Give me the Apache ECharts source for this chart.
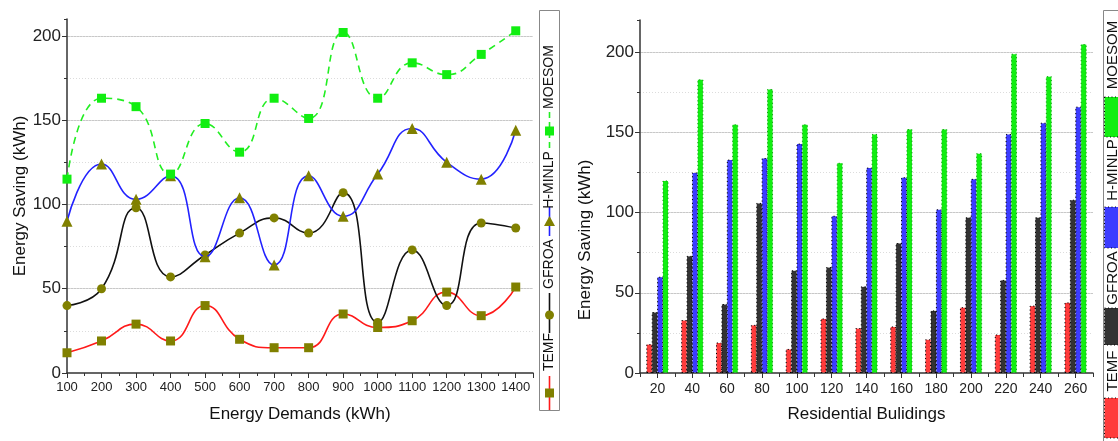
<!DOCTYPE html>
<html>
<head>
<meta charset="utf-8">
<script src="https://cdn.jsdelivr.net/npm/echarts@6.0.0/dist/echarts.min.js"></script>
<style>
  html, body { margin: 0; padding: 0; background: #fff; }
  #chart { width: 1118px; height: 441px; }
</style>
</head>
<body>
<div id="chart"></div>
<script>
// left panel: energy demand (kWh) vs energy saving
var demands = [100, 200, 300, 400, 500, 600, 700, 800, 900, 1000, 1100, 1200, 1300, 1400];
var temfLine   = [12, 19, 29, 19, 40, 20, 15, 15, 35, 27, 31, 48, 34, 51];
var gfroaLine  = [40, 50, 98, 57, 70, 83, 92, 83, 107, 30, 73, 40, 89, 86];
var hminlpLine = [90, 124, 103, 117, 69, 104, 64, 117, 93, 118, 145, 125, 115, 144];
var moesomLine = [115, 163, 158, 118, 148, 131, 163, 151, 202, 163, 184, 177, 189, 203];

// right panel: residential buildings
var buildings = ['20', '40', '60', '80', '100', '120', '140', '160', '180', '200', '220', '240', '260'];
var temfBar   = [18, 33, 19, 30, 15, 34, 28, 29, 21, 41, 24, 42, 44];
var gfroaBar  = [38, 73, 43, 106, 64, 66, 54, 81, 39, 97, 58, 97, 108];
var hminlpBar = [60, 125, 133, 134, 143, 98, 128, 122, 102, 121, 149, 156, 166];
var moesomBar = [120, 183, 155, 177, 155, 131, 149, 152, 152, 137, 199, 185, 205];

var names = ['TEMF', 'GFROA', 'H-MINLP', 'MOESOM'];

var FONT = '"Liberation Sans", Arial, sans-serif';
var OLIVE = '#808000';
var lineColors = ['#ff1a1a', '#111111', '#2222ff', '#22ee22'];
var barColors = ['#ff3b3b', '#333333', '#3c3cff', '#11ee11'];

function pairs(xs, ys) {
	return xs.map(function (x, i) { return [x, ys[i]]; });
}

function majorY(grid, max) {
	return {
		gridIndex: grid, type: 'value', min: 0, max: max, interval: 50, position: 'left',
		axisLine: { show: true, lineStyle: { color: '#333', width: 1.5 } },
		axisTick: { show: true, length: 5, lineStyle: { color: '#333' } },
		axisLabel: { fontSize: 17, color: '#222', fontFamily: FONT, showMaxLabel: false, margin: 6 },
		splitLine: { show: true, showMaxLine: false, showMinLine: false, lineStyle: { color: '#c8c8c8', width: 1 } }
	};
}

function minorY(grid, max) {
	return {
		gridIndex: grid, type: 'value', min: 0, max: max, interval: 25, position: 'left',
		axisLine: { show: false },
		axisTick: { show: true, length: 3, lineStyle: { color: '#333' } },
		axisLabel: { show: false },
		splitLine: { show: true, showMaxLine: false, showMinLine: false, lineStyle: { color: '#dcdcdc', type: [1, 2] } }
	};
}

var lineSymbols = ['rect', 'circle', 'triangle', 'rect'];
var lineSizes = [9, 9, 11, 9];
var lineData = [temfLine, gfroaLine, hminlpLine, moesomLine];
var barData = [temfBar, gfroaBar, hminlpBar, moesomBar];

var series = [];
names.forEach(function (name, i) {
	series.push({
		name: name,
		type: 'line',
		xAxisIndex: 0,
		yAxisIndex: 0,
		smooth: 0.5,
		symbol: lineSymbols[i],
		symbolSize: lineSizes[i],
		itemStyle: { color: i === 3 ? '#11ee11' : OLIVE },
		lineStyle: { color: lineColors[i], width: 1.6, type: i === 3 ? [7, 5] : 'solid' },
		data: pairs(demands, lineData[i]),
		z: 3 + i,
		animation: false
	});
});
names.forEach(function (name, i) {
	series.push({
		name: name + ' ',
		type: 'bar',
		xAxisIndex: 2,
		yAxisIndex: 2,
		barWidth: 6,
		barGap: '-10%',
		itemStyle: {
			color: barColors[i],
			borderColor: i === 3 ? '#0b9f0b' : '#000',
			borderWidth: 1,
			borderType: [1.2, 2.6]
		},
		data: barData[i],
		animation: false
	});
});

// rotated legends, drawn by hand
var graphic = [];
function vtext(x, y, txt, size) {
	graphic.push({
		type: 'text', x: x, y: y, rotation: Math.PI / 2, silent: true,
		style: { text: txt, fontSize: size, fontFamily: FONT, fill: '#111', align: 'center', verticalAlign: 'middle' }
	});
}
// left legend box
graphic.push({ type: 'rect', shape: { x: 539.5, y: 10.5, width: 20, height: 400 }, style: { fill: null, stroke: '#888', lineWidth: 1 } });
var lx = 549.5;
var legLine = [[376, 410], [293, 333], [207, 236], [112, 152]];
var legMark = [393, 315, 221, 131];
var legText = [352, 264, 180, 77];
names.forEach(function (name, i) {
	graphic.push({
		type: 'line', shape: { x1: lx, y1: legLine[i][0], x2: lx, y2: legLine[i][1] },
		style: { stroke: lineColors[i], lineWidth: 1.6, lineDash: i === 3 ? [6, 4] : null }
	});
	var c = i === 3 ? '#11ee11' : OLIVE;
	var y = legMark[i];
	if (lineSymbols[i] === 'rect') {
		graphic.push({ type: 'rect', shape: { x: lx - 4.5, y: y - 4.5, width: 9, height: 9 }, style: { fill: c } });
	} else if (lineSymbols[i] === 'circle') {
		graphic.push({ type: 'circle', shape: { cx: lx, cy: y, r: 4.5 }, style: { fill: c } });
	} else {
		graphic.push({ type: 'polygon', shape: { points: [[lx - 5.5, y + 5], [lx + 5.5, y + 5], [lx, y - 5]] }, style: { fill: c } });
	}
	vtext(lx, legText[i], name, 14);
});

// right legend box (cut by the page edge)
graphic.push({ type: 'rect', shape: { x: 1103.5, y: 10.5, width: 40, height: 440 }, style: { fill: null, stroke: '#888', lineWidth: 1 } });
var rRect = [[398, 438], [308, 345], [207, 248], [97, 137]];
var rText = [371, 278, 170, 55];
names.forEach(function (name, i) {
	graphic.push({
		type: 'rect', shape: { x: 1104.5, y: rRect[i][0], width: 20, height: rRect[i][1] - rRect[i][0] },
		style: { fill: barColors[i], stroke: '#000', lineWidth: 1, lineDash: [1, 2.5] }
	});
	vtext(1113, rText[i], name, 15);
});

// right y axis title sits lower than the axis centre
vtext(585, 240, 'Energy Saving (kWh)', 17);

var option = {
	backgroundColor: '#fff',
	animation: false,
	textStyle: { fontFamily: FONT },
	grid: [
		{ left: 67, top: 19, width: 466, height: 354 },
		{ left: 640, top: 20, width: 453, height: 353 }
	],
	xAxis: [
		{
			gridIndex: 0, type: 'value', min: 100, max: 1450, interval: 100,
			name: 'Energy Demands (kWh)', nameLocation: 'middle', nameGap: 33,
			nameTextStyle: { fontSize: 17, color: '#111', fontFamily: FONT },
			axisLine: { lineStyle: { color: '#333', width: 1.5 } },
			axisTick: { length: 5, lineStyle: { color: '#333' } },
			minorTick: { show: true, splitNumber: 2, length: 3, lineStyle: { color: '#333' } },
			axisLabel: {
				fontSize: 13, color: '#222', fontFamily: FONT, showMaxLabel: false, margin: 8,
				formatter: function (v) { return String(v); }
			},
			splitLine: { show: false }
		},
		{ gridIndex: 0, type: 'value', show: false, min: 100, max: 1450 },
		{
			gridIndex: 1, type: 'category', data: buildings, boundaryGap: true,
			name: 'Residential Bulidings', nameLocation: 'middle', nameGap: 33,
			nameTextStyle: { fontSize: 17, color: '#111', fontFamily: FONT },
			axisLine: { lineStyle: { color: '#333', width: 1.5 } },
			axisTick: { show: true, length: 4, alignWithLabel: false, interval: 0, lineStyle: { color: '#333' } },
			axisLabel: { fontSize: 14, color: '#222', fontFamily: FONT, margin: 9, interval: 0 },
			splitLine: { show: false }
		},
		{
			gridIndex: 1, type: 'category', data: buildings, boundaryGap: true, position: 'bottom',
			axisLine: { show: false },
			axisTick: { show: true, length: 5, alignWithLabel: true, interval: 0, lineStyle: { color: '#333' } },
			axisLabel: { show: false },
			splitLine: { show: false }
		}
	],
	yAxis: [
		Object.assign(majorY(0, 210), {
			name: 'Energy Saving (kWh)', nameLocation: 'middle', nameGap: 38,
			nameTextStyle: { fontSize: 17, color: '#111', fontFamily: FONT }
		}),
		minorY(0, 210),
		majorY(1, 220),
		minorY(1, 220)
	],
	graphic: graphic,
	series: series
};

var chart = echarts.init(document.getElementById('chart'), null, { renderer: 'canvas' });
chart.setOption(option);
</script>
</body>
</html>
